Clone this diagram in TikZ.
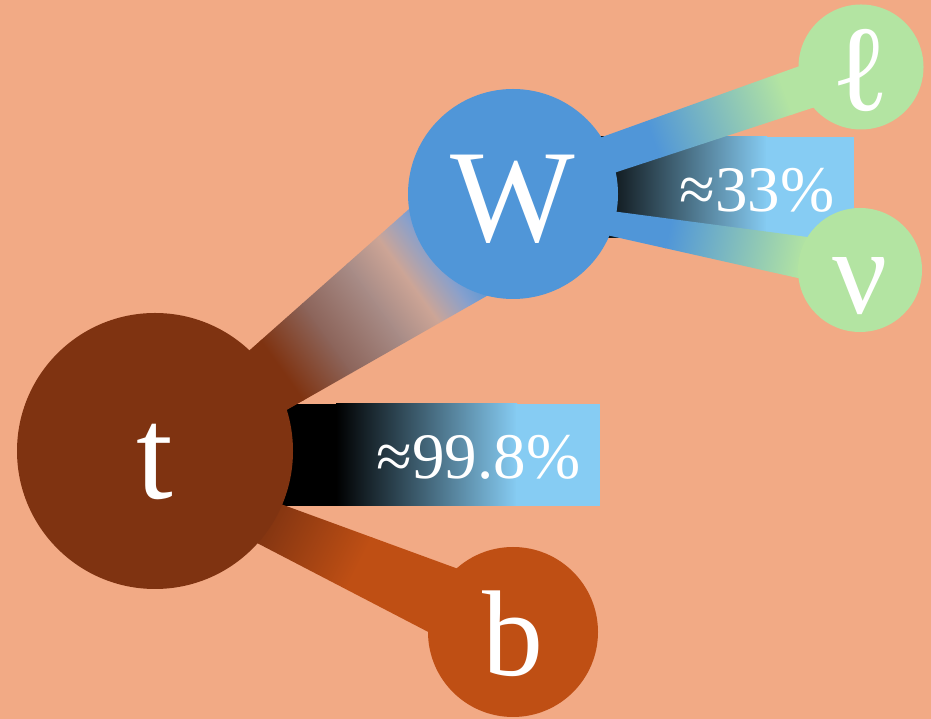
\documentclass[tikz,border=0pt]{standalone}
\usepackage{fontspec}
\setmainfont{LiberationSerif-Regular.ttf}
\newfontfamily\partfont{LiberationSerif-Regular.ttf}
\usetikzlibrary{calc,backgrounds}
\definecolor{bgSalmon} {RGB}{242,170,133}
\definecolor{topBrown} {RGB}{127, 51, 17}
\definecolor{wBlue}    {RGB}{ 80,150,216}
\definecolor{botOrange}{RGB}{191, 79, 20}
\definecolor{lepGreen} {RGB}{179,228,162}
\definecolor{boxBlue}  {RGB}{134,204,243}
\definecolor{fadeA}    {RGB}{140,100, 90}
\definecolor{fadeB}    {RGB}{168,140,135}
\definecolor{fadeC}    {RGB}{205,165,150}
\definecolor{fadeD}    {RGB}{135,160,205}

% angle from the centre of #1 to the centre of #2
\newcommand{\bandangle}[2]{%
  \pgfmathanglebetweenpoints{\pgfpointanchor{#1}{center}}{\pgfpointanchor{#2}{center}}%
  \global\let\bandang\pgfmathresult}
\newcommand{\gradpiece}[4]{\shade[left color=#3,right color=#4] (#1,-250) rectangle (#2,250);}

\begin{document}
\begin{tikzpicture}[x=1pt,y=1pt,
          ball/.style={circle,inner sep=0pt,text=white,
                       font=\partfont\fontsize{#1pt}{#1pt}\selectfont,
                       text height=0.72*#1pt,text depth=0pt},
          pct/.style={inner sep=0pt,text=white,anchor=base,
                      font=\partfont\fontsize{65pt}{65pt}\selectfont},
        ]
        \useasboundingbox (0,0) rectangle (931,719);
        % PARTICLES
        \node[ball=132,fill=topBrown,minimum size=276pt](t)  at (155,268){t};
        \node[ball=132,fill=wBlue,minimum size=210pt]   (W)  at (513,525){W};
        \node[ball=122,fill=botOrange,minimum size=170pt](b) at (513,87){b};
        \node[ball=122,fill=lepGreen,minimum size=125pt](l)  at (861,652){ℓ};
        \node[ball=122,fill=lepGreen,minimum size=124pt](nu) at (860,449){ν};

        \begin{scope}[on background layer]
          \fill[bgSalmon] (0,0) rectangle (931,719);
          % BRANCHING BOXES
          \fill[black]   ($(t)+(0,-55)$)   rectangle ($(t)+(182,47)$);
          \shade[left color=black,right color=boxBlue]
                         ($(t)+(181,-55)$) rectangle ($(t)+(362,47)$);
          \fill[boxBlue] ($(t)+(361,-55)$) rectangle ($(t)+(445,47)$);
          \fill[black]   ($(W)+(0,-44)$)   rectangle ($(W)+(78,57)$);
          \shade[left color=black,right color=boxBlue]
                         ($(W)+(77,-44)$)  rectangle ($(W)+(254,57)$);
          \fill[boxBlue] ($(W)+(253,-44)$) rectangle ($(W)+(341,57)$);

          % t -> W
          \bandangle{t}{W}
          \begin{scope}
            \clip ($(t)+(0,17)$)--($(W)+(0,77)$)--($(W)+(0,-87)$)--($(t)+(0,-34)$)--cycle;
            \begin{scope}[transform canvas={shift={(t)},rotate=\bandang}]
              \fill[topBrown] (-20,-250) rectangle (151,250);
              \gradpiece{150}{206}{topBrown}{fadeA}
              \gradpiece{205}{266}{fadeA}{fadeB}
              \gradpiece{265}{306}{fadeB}{fadeC}
              \gradpiece{305}{341}{fadeC}{fadeD}
              \gradpiece{340}{370}{fadeD}{wBlue}
              \fill[wBlue] (369,-250) rectangle (470,250);
            \end{scope}
          \end{scope}
          % t -> b
          \bandangle{t}{b}
          \begin{scope}
            \clip ($(t)+(0,-7)$)--($(b)+(0,43)$)--($(b)+(0,-44)$)--($(t)+(0,-39)$)--cycle;
            \begin{scope}[transform canvas={shift={(t)},rotate=\bandang}]
              \fill[topBrown] (-20,-250) rectangle (126,250);
              \gradpiece{125}{233}{topBrown}{botOrange}
              \fill[botOrange] (232,-250) rectangle (430,250);
            \end{scope}
          \end{scope}
          % W -> l
          \bandangle{W}{l}
          \begin{scope}
            \clip ($(W)+(0,25)$)--($(l)+(0,23)$)--($(l)+(0,-25)$)--($(W)+(0,-12)$)--cycle;
            \begin{scope}[transform canvas={shift={(W)},rotate=\bandang}]
              \fill[wBlue] (-20,-250) rectangle (151,250);
              \gradpiece{150}{290}{wBlue}{lepGreen}
              \fill[lepGreen] (289,-250) rectangle (400,250);
            \end{scope}
          \end{scope}
          % W -> nu
          \bandangle{W}{nu}
          \begin{scope}
            \clip ($(W)+(0,-4)$)--($(nu)+(0,26)$)--($(nu)+(0,-22)$)--($(W)+(0,-20)$)--cycle;
            \begin{scope}[transform canvas={shift={(W)},rotate=\bandang}]
              \fill[wBlue] (-20,-250) rectangle (161,250);
              \gradpiece{160}{298}{wBlue}{lepGreen}
              \fill[lepGreen] (297,-250) rectangle (400,250);
            \end{scope}
          \end{scope}
        \end{scope}

        % RATIOS
        \node[pct](r1) at ($(t)+(323.5,-28)$){≈99.8\%};
        \node[pct](r2) at ($(W)+(244,-17.5)$){≈33\%};
      \end{tikzpicture}
\end{document}
